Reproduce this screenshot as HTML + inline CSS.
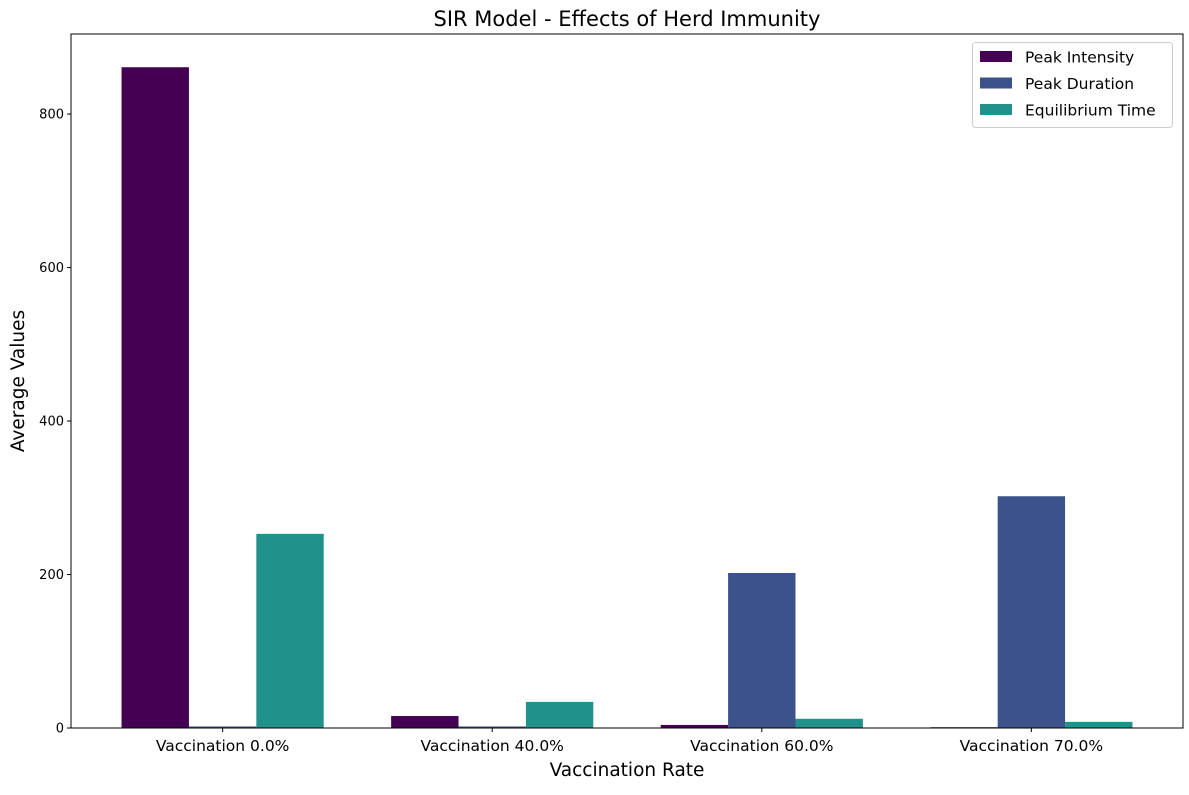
<!DOCTYPE html>
<html><head><meta charset="utf-8"><style>
body{margin:0;background:#fff;}
svg text{font-family:"DejaVu Sans","Liberation Sans",sans-serif;}
</style></head><body>
<svg id="chart" width="1189" height="790" xmlns="http://www.w3.org/2000/svg">
<rect width="1189" height="790" fill="#fff"/>
<text x="627" y="26" font-size="21" text-anchor="middle">SIR Model - Effects of Herd Immunity</text>
<g id="bars"></g>
<g id="axes"></g>
<text transform="translate(24,381) rotate(-90)" font-size="18.5" text-anchor="middle">Average Values</text>
<text x="627" y="776" font-size="18.5" text-anchor="middle">Vaccination Rate</text>
<g id="legend"></g>
</svg>
<script>
const categories=["Vaccination 0.0%","Vaccination 40.0%","Vaccination 60.0%","Vaccination 70.0%"];
const seriesNames=["Peak Intensity","Peak Duration","Equilibrium Time"];
const peakIntensity=[861,15.6,4,1];
const peakDuration=[2,2,202,302];
const equilibriumTime=[253,34,12,8];
const yTicks=[0,200,400,600,800];
const colors=["#440154","#3b528b","#21918c"];
const series=[peakIntensity,peakDuration,equilibriumTime];
const L=71,R=1183,T=34,B=728;
const yMax=904.3;
const xMin=-0.5625,xMax=3.5625,bw=0.25;
const xs=v=>L+(v-xMin)/(xMax-xMin)*(R-L);
const ys=v=>B-v/yMax*(B-T);
const NS="http://www.w3.org/2000/svg";
function mk(tag,attrs,parent){const e=document.createElementNS(NS,tag);for(const k in attrs)e.setAttribute(k,attrs[k]);parent.appendChild(e);return e;}
const bars=document.getElementById('bars'),axes=document.getElementById('axes'),leg=document.getElementById('legend');
series.forEach((s,si)=>{s.forEach((v,ci)=>{
 const x0=xs(ci+(si-1)*bw-bw/2),x1=xs(ci+(si-1)*bw+bw/2);
 const r=mk('rect',{x:x0,y:ys(v),width:x1-x0,height:B-ys(v),fill:colors[si]},bars);
 
 
});});
const frame=mk('rect',{x:L,y:T,width:R-L,height:B-T,fill:'none',stroke:'#000','stroke-width':1},axes);


yTicks.forEach(t=>{
 mk('line',{x1:L-4,x2:L,y1:ys(t),y2:ys(t),stroke:'#000'},axes);
 const tx=mk('text',{x:L-7,y:ys(t)+4.5,'font-size':13,'text-anchor':'end'},axes);
 tx.textContent=t;
 
 
});
categories.forEach((c,i)=>{
 mk('line',{x1:xs(i),x2:xs(i),y1:B,y2:B+4,stroke:'#000'},axes);
 const tx=mk('text',{x:xs(i),y:B+23,'font-size':15.5,'text-anchor':'middle'},axes);
 tx.textContent=c;
 
 
});
mk('rect',{x:972.5,y:42.5,width:200,height:85,rx:3,fill:'#fff',stroke:'#ccc'},leg);
seriesNames.forEach((n,i)=>{
 const y=57+i*26.5;
 const sw=mk('rect',{x:980,y:y-6,width:32,height:11,fill:colors[i]},leg);
 
 
 const tx=mk('text',{x:1025,y:y+5.5,'font-size':15.5},leg);
 tx.textContent=n;
 
 
});
</script>
</body></html>
